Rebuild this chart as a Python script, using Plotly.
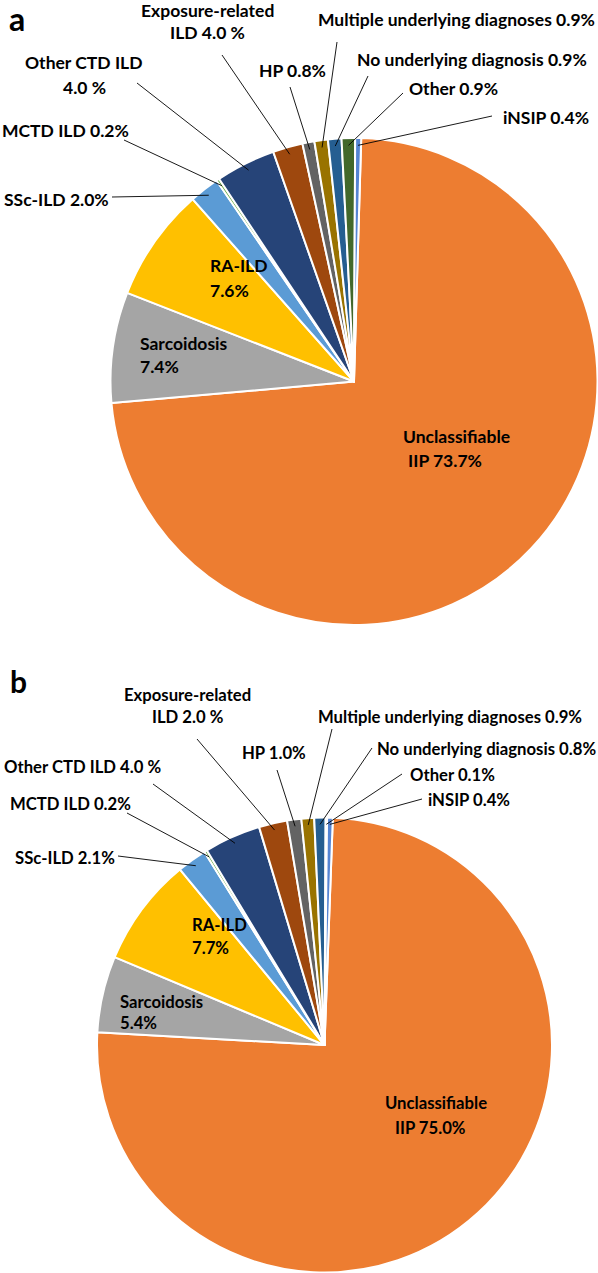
import math
import plotly.graph_objects as go

# ---------------- data ----------------
categories = ["Unclassifiable IIP", "Sarcoidosis", "RA-ILD", "SSc-ILD", "MCTD ILD",
              "Other CTD ILD", "Exposure-related ILD", "HP",
              "Multiple underlying diagnoses", "No underlying diagnosis", "Other", "iNSIP"]

# slice shares as drawn
values_a = [73.7, 7.4, 7.6, 2.0, 0.2, 4.0, 2.0, 0.8, 0.9, 0.9, 0.9, 0.4]
values_b = [75.0, 5.4, 7.7, 2.1, 0.2, 4.0, 2.0, 1.0, 0.9, 0.8, 0.1, 0.4]

labels_a = ["Unclassifiable<br>IIP 73.7%", "Sarcoidosis<br>7.4%", "RA-ILD<br>7.6%",
            "SSc-ILD 2.0%", "MCTD ILD 0.2%", "Other CTD ILD<br>4.0 %",
            "Exposure-related<br>ILD 4.0 %", "HP 0.8%",
            "Multiple underlying diagnoses 0.9%", "No underlying diagnosis 0.9%",
            "Other 0.9%", "iNSIP 0.4%"]
labels_b = ["Unclassifiable<br>IIP 75.0%", "Sarcoidosis<br>5.4%", "RA-ILD<br>7.7%",
            "SSc-ILD 2.1%", "MCTD ILD 0.2%", "Other CTD ILD 4.0 %",
            "Exposure-related<br>ILD 2.0 %", "HP 1.0%",
            "Multiple underlying diagnoses 0.9%", "No underlying diagnosis 0.8%",
            "Other 0.1%", "iNSIP 0.4%"]

colors = ["#ED7D31", "#A5A5A5", "#FFC000", "#5B9BD5", "#70AD47", "#264478",
          "#9E480E", "#636363", "#997300", "#255E91", "#43682B", "#5585D3"]

# ---------------- layout / style ----------------
W, H = 598, 1273
FONT = "Lato"

# pie placement (centre px, radius px, start rotation deg)
pie_a = dict(cx=354, cy=381.5, r=243.5, rot=1.7)
pie_b = dict(cx=324.5, cy=1045, r=227.5, rot=2.1)

# label line positions (x, y, xanchor) per slice, in px
pos_a = [
    [(456, 436, "center"), (445, 460, "center")],
    [(138, 343, "left"), (138, 366, "left")],
    [(208, 266, "left"), (208, 290, "left")],
    [(2, 199, "left")],
    [(0, 130, "left")],
    [(84, 63, "center"), (84, 87, "center")],
    [(207, 11, "center"), (207, 33, "center")],
    [(292, 70, "center")],
    [(456, 20, "center")],
    [(472, 60, "center")],
    [(453, 88, "center")],
    [(546, 117, "center")],
]
tails_a = [None, None, None, (112, 197), (124, 140), (137, 83), (222, 55),
           (290, 87), (337, 42), (368, 76), (403, 93), (492, 116)]

pos_b = [
    [(436, 1103, "center"), (430, 1128, "center")],
    [(118, 1002, "left"), (118, 1023, "left")],
    [(190, 925, "left"), (190, 948, "left")],
    [(13, 858, "left")],
    [(8, 804, "left")],
    [(2, 767, "left")],
    [(187, 695, "center"), (188, 717, "center")],
    [(274, 753, "center")],
    [(450, 717, "center")],
    [(486, 749, "center")],
    [(452, 775, "center")],
    [(469, 800, "center")],
]
tails_b = [None, None, None, (118, 856), (127, 813), (153, 784), (197, 739),
           (277, 770), (332, 729), (372, 748), (402, 774), (422, 799)]


def px(x):
    return x / W


def py(y):
    return 1 - y / H


def domain(p):
    return dict(x=[px(p["cx"] - p["r"]), px(p["cx"] + p["r"])],
                y=[py(p["cy"] + p["r"]), py(p["cy"] - p["r"])])


fig = go.Figure()
for vals, p in ((values_a, pie_a), (values_b, pie_b)):
    fig.add_trace(go.Pie(
        labels=categories, values=vals, sort=False, direction="clockwise",
        rotation=p["rot"], textinfo="none", hoverinfo="label+percent",
        marker=dict(colors=colors, line=dict(color="white", width=2)),
        domain=domain(p), showlegend=False,
    ))

annotations = []
shapes = []


def add_panel(vals, labels, pos, tails, p, fsize):
    total = sum(vals)
    cum = 0.0
    for v, lab, lp, tail in zip(vals, labels, pos, tails):
        mid = p["rot"] + 360.0 * (cum + v / 2.0) / total
        cum += v
        for line, (x, y, xa) in zip(lab.split("<br>"), lp):
            annotations.append(dict(
                x=px(x), y=py(y), xref="paper", yref="paper", text=line,
                showarrow=False, xanchor=xa, yanchor="middle",
                font=dict(family=FONT, size=fsize, color="#000000", weight=700)))
        if tail is not None:
            a = math.radians(mid)
            f = 0.97
            hx = p["cx"] + f * p["r"] * math.sin(a)
            hy = p["cy"] - f * p["r"] * math.cos(a)
            shapes.append(dict(type="line", xref="paper", yref="paper",
                               x0=px(tail[0]), y0=py(tail[1]), x1=px(hx), y1=py(hy),
                               line=dict(color="#000000", width=0.9)))


add_panel(values_a, labels_a, pos_a, tails_a, pie_a, 17.5)
add_panel(values_b, labels_b, pos_b, tails_b, pie_b, 16.7)

annotations.append(dict(x=px(17), y=py(18), xref="paper", yref="paper", text="a",
                        showarrow=False, xanchor="center", yanchor="middle",
                        font=dict(family=FONT, size=32, color="#000000", weight=700)))
annotations.append(dict(x=px(18), y=py(681), xref="paper", yref="paper", text="b",
                        showarrow=False, xanchor="center", yanchor="middle",
                        font=dict(family=FONT, size=30, color="#000000", weight=700)))

fig.update_layout(
    width=W, height=H, margin=dict(l=0, r=0, t=0, b=0),
    paper_bgcolor="white", plot_bgcolor="white",
    annotations=annotations, shapes=shapes,
)

fig.write_html(
    "out.html",
    config={"displayModeBar": False},
    post_script="document.body.style.margin='0';document.body.style.overflow='hidden';",
)
